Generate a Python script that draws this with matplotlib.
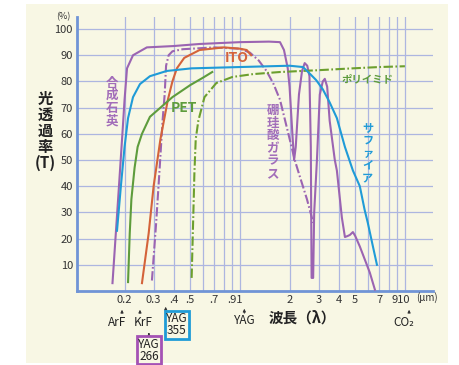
import matplotlib

matplotlib.use('Agg')
import matplotlib.pyplot as plt
from matplotlib.patches import Rectangle

plt.rcParams['font.family'] = ['Noto Sans CJK JP', 'DejaVu Sans']

# transmission curves, wavelength in um, transmittance in %
quartz_x = [0.169, 0.185, 0.195, 0.200, 0.207, 0.225, 0.273, 0.393, 0.57, 1.0, 1.5, 1.75,
            1.85, 1.95, 2.0, 2.08, 2.13, 2.18, 2.28, 2.38, 2.47, 2.56, 2.64, 2.69, 2.72,
            2.78, 2.82, 2.93, 3.05, 3.18, 3.27, 3.38, 3.5, 3.76, 3.87, 4.15, 4.33, 4.5,
            4.64, 4.84, 5.0, 5.33, 6.13, 6.58]
quartz_y = [3, 40, 62, 73, 85, 90, 93, 93.5, 94.3, 95, 95.2, 95,
            92, 85, 78, 60, 50, 55, 75, 84, 87, 86, 82, 55, 5,
            5, 30, 50, 75, 80, 81, 78, 65, 50, 46, 28, 20.6, 21,
            21.4, 22.5, 21, 17, 7, 0.5]
boro_x = [0.293, 0.31, 0.325, 0.34, 0.35, 0.357, 0.37, 0.39, 0.45, 0.7, 1.0, 1.15, 1.3,
          1.45, 1.6, 1.75, 1.95, 2.15, 2.3, 2.55, 2.73, 2.78]
boro_y = [4, 25, 45, 65, 75, 86, 90, 91.5, 92.3, 93, 92.5, 91, 88,
          84, 79, 73, 61, 50, 44, 35, 28, 26]
ito_x = [0.255, 0.28, 0.30, 0.33, 0.366, 0.39, 0.415, 0.46, 0.57, 0.8, 1.0, 1.1, 1.17]
ito_y = [3, 22, 40, 58, 73, 80, 85, 89, 92, 93, 92.5, 92, 90]
sap_x = [0.18, 0.19, 0.20, 0.21, 0.225, 0.248, 0.285, 0.36, 0.51, 1.0, 2.0, 2.41, 2.65,
         2.9, 3.18, 3.5, 3.87, 4.33, 4.84, 5.33, 5.7, 5.96, 6.4, 6.77]
sap_y = [23, 40, 55, 66, 74, 79, 82, 84, 85, 85.5, 86, 85.5, 83,
         80.5, 77, 72, 66, 55, 46, 40, 31, 26, 17, 10]
pet_x = [0.21, 0.215, 0.22, 0.23, 0.24, 0.255, 0.285, 0.33, 0.39, 0.5, 0.6, 0.68]
pet_y = [3.4, 22, 35, 47, 55, 60, 66.5, 70, 74, 78.6, 81.5, 83.6]
poly_x = [0.51, 0.52, 0.53, 0.54, 0.56, 0.61, 0.72, 0.9, 1.2, 1.75, 3.0, 4.84, 7.0, 10.0]
poly_y = [5, 25, 45, 58, 65, 74, 79.4, 81.7, 82.8, 83.6, 84.3, 85, 85.5, 85.8]

vgrid = [0.2, 0.3, 0.4, 0.5, 0.6, 0.7, 0.8, 0.9, 1, 2, 3, 4, 5, 6, 7, 8, 9, 10]
hgrid = [10, 20, 30, 40, 50, 60, 70, 80, 90, 100]
xtick_pos = [0.2, 0.3, 0.4, 0.5, 0.7, 0.93, 2, 3, 4, 5, 7, 9.4]
xtick_lab = ['0.2', '0.3', '.4', '.5', '.7', '.91', '2', '3', '4', '5', '7', '910']

C_PURPLE = '#9b64b2'
C_BLUE = '#1f9bd7'
C_ORANGE = '#d4633a'
C_GREEN = '#5e9c3c'
C_GREEN2 = '#6c9f2e'
C_GRID = '#adb6e0'
C_AXIS = '#7094d6'
C_INK = '#333333'

W, H = 459, 365
fig = plt.figure(figsize=(W / 100, H / 100), dpi=100)
fig.patches.append(Rectangle((26 / W, 2 / H), (448 - 26) / W, (361 - 2) / H,
                             transform=fig.transFigure, fc='#f8f7e4', ec='none', zorder=-5))

ax = fig.add_axes([77 / W, 1 - 291 / H, (433 - 77) / W, (291 - 17) / H])
ax.set_facecolor('none')
ax.set_xscale('log')
ax.set_xlim(0.103, 14.8)
ax.set_ylim(0, 104.6)

for v in vgrid:
    ax.axvline(v, color=C_GRID, lw=0.9, zorder=1)
for h in hgrid:
    ax.axhline(h, color=C_GRID, lw=0.9, zorder=1)

lw = 1.5
dd = (4.5, 1.2, 0.8, 1.2)
ax.plot(quartz_x, quartz_y, color=C_PURPLE, lw=lw, zorder=3)
ax.plot(boro_x, boro_y, color=C_PURPLE, lw=lw, dashes=dd, zorder=3)
ax.plot(ito_x, ito_y, color=C_ORANGE, lw=lw, zorder=3)
ax.plot(sap_x, sap_y, color=C_BLUE, lw=lw, zorder=4)
ax.plot(pet_x, pet_y, color=C_GREEN, lw=lw, zorder=3)
ax.plot(poly_x, poly_y, color=C_GREEN2, lw=lw, dashes=dd, zorder=3)

for s in ('top', 'right'):
    ax.spines[s].set_visible(False)
for s in ('left', 'bottom'):
    ax.spines[s].set_color(C_AXIS)
    ax.spines[s].set_linewidth(2)
ax.set_yticks(hgrid)
ax.set_xticks(xtick_pos)
ax.set_xticklabels(xtick_lab)
ax.minorticks_off()
ax.tick_params(length=0, labelsize=8, colors=C_INK, pad=3)

# helper: pixel row -> axes fraction
def fy(py):
    return (291 - py) / 274

xt = ax.get_xaxis_transform()
ax.text(0.085, fy(17), '(%)', transform=xt, fontsize=6.5, color=C_INK,
        ha='center', va='center', clip_on=False)
ax.text(13.6, fy(298), '(μm)', transform=xt, fontsize=7, color=C_INK,
        ha='center', va='center', clip_on=False)
fig.text(45 / W, 1 - 131 / H, '光\n透\n過\n率\n(T)', fontsize=11, fontweight='bold',
         color='#222222', ha='center', va='center', linespacing=1.0)
ax.text(2.4, fy(318), '波長（λ）', transform=xt, fontsize=10.5, fontweight='bold',
        color='#222222', ha='center', va='center', clip_on=False)

# laser annotations
arrow = dict(arrowstyle='-|>', lw=0.7, color=C_INK, mutation_scale=4)
def laser(x_arrow, y0, y1, label, x_text, y_text, box=None):
    ax.annotate('', xy=(x_arrow, fy(y1)), xytext=(x_arrow, fy(y0)), xycoords=xt,
                textcoords=xt, arrowprops=arrow, annotation_clip=False)
    kw = dict(transform=xt, fontsize=8.5, color='#222222', ha='center', va='center',
              linespacing=0.9, clip_on=False)
    if box:
        kw['bbox'] = dict(boxstyle='square,pad=0.12', fc='none', ec=box, lw=2)
    ax.text(x_text, fy(y_text), label, **kw)

laser(0.193, 316, 307, 'ArF', 0.18, 322)
laser(0.248, 316, 307, 'KrF', 0.258, 322)
laser(0.355, 312, 304, 'YAG\n355', 0.415, 325, box=C_BLUE)
laser(0.281, 337, 330, 'YAG\n266', 0.281, 350, box='#a452b4')
laser(1.064, 316, 306, 'YAG', 1.064, 321)
laser(10.6, 315, 307, 'CO₂', 9.9, 322)

# curve labels
def vtext(x, py, s, color, size):
    ax.text(x, fy(py), '\n'.join(s), transform=xt, fontsize=size, fontweight='bold',
            color=color, ha='center', va='center', linespacing=0.95)

vtext(0.168, 102, '合成石英', '#a26db9', 9)
vtext(1.58, 142, '硼珪酸ガラス', '#a26db9', 9)
vtext(5.95, 153, 'サファイア', C_BLUE, 8)
ax.text(0.455, 70, 'PET', fontsize=10, color=C_GREEN, ha='center', va='center',
        fontweight='bold')
ax.text(0.96, 89, 'ITO', fontsize=10, color=C_ORANGE, ha='center', va='center',
        fontweight='bold')
ax.text(5.9, 81, 'ポリイミド', fontsize=7.5, color=C_GREEN, ha='center', va='center',
        fontweight='bold')

fig.savefig('out.png', dpi=100)
